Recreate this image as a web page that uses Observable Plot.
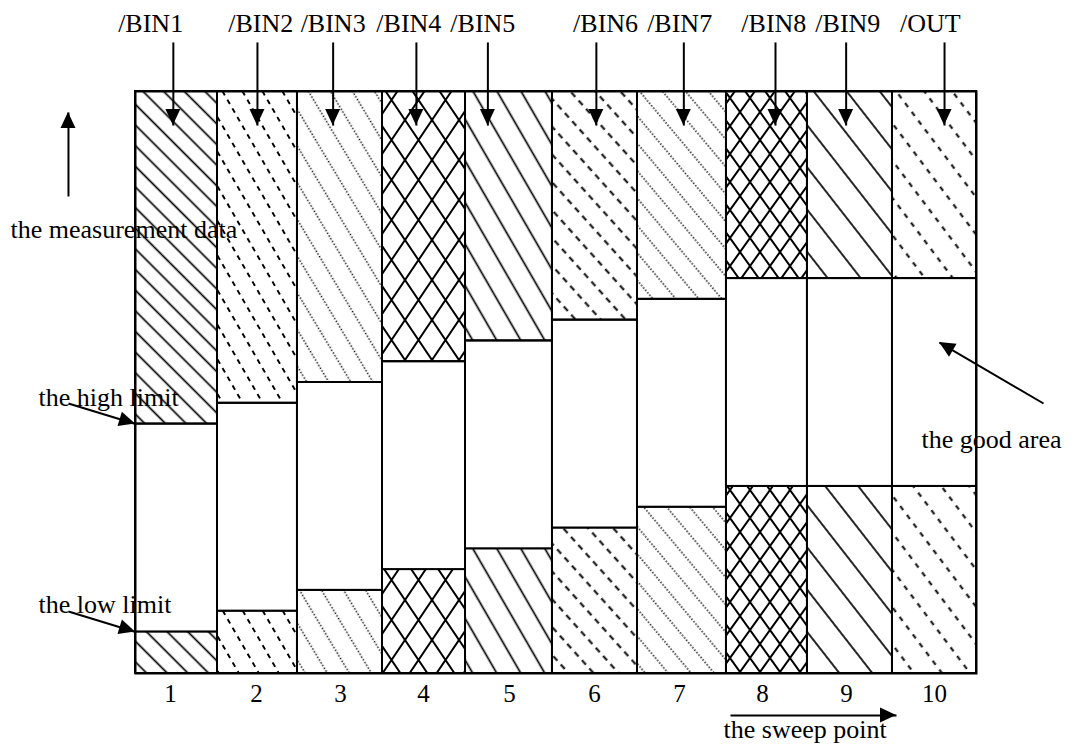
<!DOCTYPE html>
<html><head><meta charset="utf-8">
<script src="https://cdn.jsdelivr.net/npm/d3@7"></script>
<script src="https://cdn.jsdelivr.net/npm/@observablehq/plot@0.6"></script>
<style>body{margin:0;background:#fff} #chart svg{display:block}</style>
</head><body>
<svg id="patterns" width="0" height="0" style="position:absolute"><defs></defs></svg>
<div id="chart"></div>
<script>
// ---- data ----
const columns = [1, 2, 3, 4, 5, 6, 7, 8, 9, 10];
// sweep-point boundaries between the columns
const columnEdges = [0.5, 1.475, 2.426, 3.437, 4.424, 5.458, 6.469, 7.527, 8.49, 9.501, 10.5];
const lowLimits = [2, 3, 4, 5, 6, 7, 8, 9, 9, 9];
const highLimits = [12, 13, 14, 15, 16, 17, 18, 19, 19, 19];
const measurementTop = 28;
const tickX = [0.916, 1.939, 2.938, 3.924, 4.947, 5.958, 6.968, 7.955, 8.954, 10.0];
const tickY = -1.01;
const binLabels = ["/BIN1", "/BIN2", "/BIN3", "/BIN4", "/BIN5", "/BIN6", "/BIN7", "/BIN8", "/BIN9", "/OUT"];
const binLabelX = [0.68, 1.99, 2.85, 3.75, 4.63, 6.09, 6.97, 8.09, 8.97, 9.95];
const binArrowX = [0.95, 1.95, 2.85, 3.84, 4.69, 5.98, 7.02, 8.11, 8.95, 10.12];
const binLabelY = 31.24;
const binArrowFromY = 30.36;
const binArrowToY = 26.36;
const noteTexts = ["the measurement data", "the high limit", "the low limit", "the good area", "the sweep point"];
const noteX = [-0.986, -0.653, -0.653, 9.846, 7.492];
const noteY = [21.33, 13.29, 3.29, 11.27, -2.68];
const noteArrowX1 = [-0.297, -0.297, -0.297, 11.297, 7.575];
const noteArrowY1 = [22.95, 12.99, 2.98, 12.99, -2.02];
const noteArrowX2 = [-0.297, 0.5, 0.5, 10.06, 9.549];
const noteArrowY2 = [26.99, 12.0, 2.0, 15.92, -2.02];

// ---- hatch styles (one per column) ----
const hatchStyles = [
  {angle: 45, s: 14.6, sw: 1.7},
  {angle: 60, s: 17.3, sw: 1.7, dash: [5, 5]},
  {angle: 59, s: 18.9, sw: 1.4, dash: [1.4, 1.8]},
  {cross: true, w: 27, h: 40, sw: 2},
  {angle: 60, s: 20.8, sw: 1.7},
  {angle: 48, s: 18.6, sw: 1.8, dash: [6, 5]},
  {angle: 50, s: 17.6, sw: 1.4, dash: [1.4, 1.8]},
  {cross: true, w: 20, h: 28, sw: 2},
  {angle: 52, s: 26, sw: 1.7},
  {angle: 53, s: 22.4, sw: 1.8, dash: [5, 6]}
];

const defs = d3.select("#patterns defs");
hatchStyles.forEach((h, i) => {
  const p = defs.append("pattern").attr("id", "hatch" + (i + 1)).attr("patternUnits", "userSpaceOnUse");
  if (h.cross) {
    p.attr("width", h.w).attr("height", h.h);
    p.append("path")
      .attr("d", `M${-h.w},${-h.h}L${2 * h.w},${2 * h.h}M${-h.w},${2 * h.h}L${2 * h.w},${-h.h}`)
      .attr("stroke", "black").attr("stroke-width", h.sw).attr("fill", "none");
  } else {
    const period = h.dash ? h.dash[0] + h.dash[1] : 10;
    const W = period * Math.ceil(12 / period);
    p.attr("width", W).attr("height", h.s).attr("patternTransform", `rotate(${h.angle})`);
    const ln = p.append("line").attr("x1", 0).attr("x2", W).attr("y1", h.s / 2).attr("y2", h.s / 2)
      .attr("stroke", "black").attr("stroke-width", h.sw);
    if (h.dash) ln.attr("stroke-dasharray", h.dash.join(" "));
  }
});

const table = columns.map((c, i) => ({
  col: c, x1: columnEdges[i], x2: columnEdges[i + 1],
  low: lowLimits[i], high: highLimits[i], top: measurementTop, pattern: `url(#hatch${i + 1})`
}));
const ticks = columns.map((c, i) => ({t: String(c), x: tickX[i], y: tickY}));
const binArrows = binArrowX.map((x) => ({x1: x, y1: binArrowFromY, x2: x, y2: binArrowToY}));
const noteArrows = noteArrowX1.map((x, i) => ({x1: x, y1: noteArrowY1[i], x2: noteArrowX2[i], y2: noteArrowY2[i]}));
const allArrows = binArrows.concat(noteArrows);
const binText = binLabels.map((t, i) => ({t, x: binLabelX[i], y: binLabelY}));
const notes = noteTexts.map((t, i) => ({t, x: noteX[i], y: noteY[i]}));

function arrowHeads(arrows, L, W) {
  return (index, scales) => {
    const g = d3.create("svg:g").attr("fill", "black");
    for (const a of arrows) {
      const x1 = scales.x(a.x1), y1 = scales.y(a.y1), x2 = scales.x(a.x2), y2 = scales.y(a.y2);
      const ang = Math.atan2(y2 - y1, x2 - x1) * 180 / Math.PI;
      g.append("path").attr("d", `M0,0L${-L},${-W / 2}L${-L},${W / 2}Z`)
        .attr("transform", `translate(${x2},${y2}) rotate(${ang})`);
    }
    return g.node();
  };
}

const colRect = (y1, y2, fill) => Plot.rect(table, {
  x1: "x1", x2: "x2", y1, y2, fill, stroke: "black", strokeWidth: 2
});

const chart = Plot.plot({
  width: 1075,
  height: 747,
  marginLeft: 135,
  marginRight: 99,
  marginTop: 91,
  marginBottom: 74,
  style: {fontFamily: "'Liberation Serif', 'Times New Roman', serif", fontSize: "26px", background: "white", color: "black", overflow: "visible"},
  x: {domain: [0.5, 10.5], axis: null},
  y: {domain: [0, measurementTop], axis: null},
  color: {type: "identity"},
  marks: [
    colRect(() => 0, "low", "pattern"),
    colRect("low", "high", () => "white"),
    colRect("high", "top", "pattern"),
    Plot.frame({stroke: "black", strokeWidth: 2}),
    Plot.text(ticks, {x: "x", y: "y", text: "t", fontSize: 25, fill: "black", textAnchor: "middle"}),
    Plot.text(binText, {x: "x", y: "y", text: "t", fontSize: 26, fill: "black", textAnchor: "middle"}),
    Plot.text(notes, {x: "x", y: "y", text: "t", fontSize: 26, fill: "black", textAnchor: "start"}),
    Plot.link(allArrows, {x1: "x1", y1: "y1", x2: "x2", y2: "y2", stroke: "black", strokeWidth: 2}),
    arrowHeads(allArrows, 16, 15)
  ]
});
document.getElementById("chart").append(chart);
</script>
</body></html>
